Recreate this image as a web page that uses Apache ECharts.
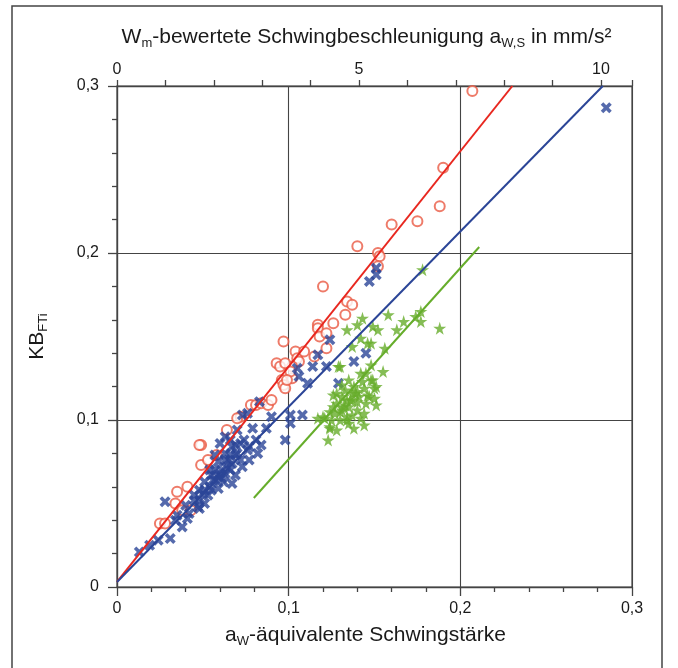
<!DOCTYPE html>
<html><head><meta charset="utf-8">
<script src="https://cdn.jsdelivr.net/npm/echarts@6/dist/echarts.min.js"></script>
<style>html,body{margin:0;padding:0;background:#fff}#c{width:678px;height:668px}</style>
</head><body><div id="c"></div>
<script>
// Bottom axis: a_w-äquivalente Schwingstärke ; left axis: KB_FTi
const xTicks = [0, 0.1, 0.2, 0.3];
const yTicks = [0, 0.1, 0.2, 0.3];
const topTickLabels = [0, 5, 10];
const topAxisMaxAtRightEdge = 10.64; // mm/s² at x = 0,3

const redCircles = [
[0.207,0.297],[0.190,0.251],[0.188,0.228],[0.175,0.219],[0.160,0.217],[0.140,0.204],
[0.152,0.200],[0.153,0.198],[0.152,0.192],[0.120,0.180],[0.134,0.171],[0.137,0.169],
[0.133,0.163],[0.117,0.157],[0.117,0.155],[0.126,0.158],[0.118,0.150],[0.122,0.143],
[0.115,0.138],[0.122,0.152],[0.104,0.141],[0.105,0.137],[0.106,0.135],[0.102,0.132],
[0.102,0.125],[0.097,0.147],[0.109,0.141],[0.093,0.134],[0.095,0.132],[0.098,0.134],
[0.101,0.129],[0.096,0.124],[0.097,0.121],[0.098,0.119],[0.099,0.124],[0.078,0.109],
[0.081,0.109],[0.084,0.110],[0.088,0.109],[0.090,0.112],[0.072,0.102],[0.070,0.101],
[0.064,0.094],[0.049,0.085],[0.048,0.085],[0.049,0.073],[0.053,0.076],[0.058,0.079],
[0.035,0.057],[0.041,0.060],[0.034,0.050],[0.038,0.046],[0.043,0.046],[0.025,0.038],
[0.028,0.038]
];
const blueCrosses = [
[0.285,0.287],[0.151,0.191],[0.151,0.187],[0.147,0.183],[0.124,0.148],[0.117,0.139],
[0.114,0.132],[0.122,0.132],[0.145,0.140],[0.138,0.135],[0.106,0.126],[0.111,0.122],
[0.105,0.131],[0.108,0.103],[0.101,0.103],[0.101,0.098],[0.098,0.088],[0.090,0.102],
[0.087,0.095],[0.076,0.104],[0.083,0.111],[0.079,0.095],[0.081,0.088],[0.082,0.080],
[0.076,0.082],[0.072,0.086],[0.067,0.084],[0.063,0.090],[0.060,0.086],[0.063,0.080],
[0.072,0.076],[0.067,0.074],[0.064,0.072],[0.060,0.068],[0.056,0.064],[0.054,0.060],
[0.050,0.056],[0.048,0.052],[0.051,0.050],[0.047,0.048],[0.042,0.044],[0.028,0.051],
[0.038,0.036],[0.031,0.029],[0.024,0.028],[0.041,0.041],[0.035,0.043],[0.073,0.103],
[0.070,0.080],[0.073,0.072],[0.055,0.067],[0.067,0.062],[0.057,0.064],[0.061,0.070],
[0.065,0.076],[0.057,0.070],[0.059,0.066],[0.061,0.065],[0.063,0.068],[0.066,0.070],
[0.055,0.058],[0.053,0.055],[0.059,0.059],[0.062,0.063],[0.069,0.067],[0.069,0.085],
[0.066,0.079],[0.051,0.058],[0.045,0.052],[0.048,0.047],[0.084,0.085],[0.077,0.076],
[0.129,0.122],[0.051,0.063],[0.054,0.070],[0.059,0.075],[0.063,0.076],[0.069,0.079],
[0.074,0.088],[0.077,0.084],[0.048,0.058],[0.045,0.055],[0.066,0.088],[0.070,0.094],
[0.057,0.079],[0.040,0.049],[0.034,0.040],[0.019,0.025],[0.013,0.021]
];
const greenStars = [
[0.178,0.190],[0.167,0.159],[0.174,0.162],[0.177,0.165],[0.177,0.159],[0.188,0.155],
[0.158,0.163],[0.143,0.161],[0.140,0.157],[0.134,0.154],[0.149,0.156],[0.152,0.154],
[0.163,0.154],[0.142,0.149],[0.146,0.146],[0.148,0.146],[0.137,0.144],[0.156,0.143],
[0.129,0.132],[0.148,0.133],[0.142,0.128],[0.149,0.124],[0.151,0.120],[0.151,0.109],
[0.124,0.096],[0.120,0.102],[0.135,0.098],[0.130,0.132],[0.145,0.128],[0.148,0.124],
[0.150,0.119],[0.143,0.123],[0.138,0.120],[0.131,0.114],[0.128,0.110],[0.124,0.105],
[0.121,0.101],[0.124,0.095],[0.140,0.106],[0.145,0.110],[0.135,0.108],[0.134,0.102],
[0.130,0.100],[0.141,0.114],[0.137,0.116],[0.131,0.106],[0.127,0.104],[0.144,0.104],
[0.142,0.101],[0.137,0.103],[0.134,0.112],[0.140,0.111],[0.133,0.118],[0.128,0.116],
[0.147,0.114],[0.155,0.129],[0.132,0.108],[0.136,0.112],[0.139,0.116],[0.126,0.108],
[0.126,0.115],[0.133,0.109],[0.137,0.112],[0.140,0.117],[0.144,0.119],[0.130,0.105],
[0.134,0.100],[0.138,0.095],[0.144,0.097],[0.128,0.094],[0.125,0.100],[0.146,0.115],
[0.150,0.113],[0.131,0.121],[0.135,0.124],[0.123,0.088],[0.117,0.101]
];
const redLine = [[0, 0.003], [0.2303, 0.3]];
const blueLine = [[0, 0.003], [0.283, 0.3]];
const greenLine = [[0.0797, 0.0533], [0.211, 0.2036]];

const C_RED = '#e8271f', C_REDPT = '#ea5a44', C_BLUE = '#2b4597', C_GREEN = '#66ad2b';
const AX = '#444';
const FONT = 'Liberation Sans';
const TXT = '#1a1a1a';
const crossPath = 'path://M2.3,0 L5,2.7 L7.7,0 L10,2.3 L7.3,5 L10,7.7 L7.7,10 L5,7.3 L2.3,10 L0,7.7 L2.7,5 L0,2.3 Z';
const starPath = 'path://M50,0 L61,35 L98,35 L68,57 L79,91 L50,70 L21,91 L32,57 L2,35 L39,35 Z';
const fmt = v => { const r = Math.round(v * 10) / 10; return String(r).replace('.', ','); };
const mkRich = () => ({
  a: {fontSize: 21, color: TXT, fontFamily: FONT, lineHeight: 26, verticalAlign: 'top'},
  s: {fontSize: 13, color: TXT, fontFamily: FONT, lineHeight: 26, verticalAlign: 'top', padding: [10, 0, 0, 0]}
});

const chart = echarts.init(document.getElementById('c'), null, {renderer: 'canvas'});
chart.setOption({
  animation: false,
  backgroundColor: '#fff',
  textStyle: {fontFamily: FONT},
  graphic: [{type: 'rect', shape: {x: 12, y: 6, width: 650, height: 690},
    style: {fill: 'none', stroke: '#444', lineWidth: 1.5}, silent: true}],
  grid: {left: 117, right: 46, top: 86, bottom: 81, show: true, borderColor: AX, borderWidth: 1.2},
  xAxis: [{
    type: 'value', min: xTicks[0], max: xTicks[xTicks.length - 1], interval: 0.1, position: 'bottom',
    axisLine: {lineStyle: {color: AX, width: 1.3}},
    axisTick: {length: 9, lineStyle: {color: AX, width: 1.3}},
    minorTick: {show: true, splitNumber: 5, length: 5, lineStyle: {color: AX, width: 1.3}},
    splitLine: {show: true, lineStyle: {color: '#444', width: 1.1}},
    axisLabel: {formatter: fmt, color: TXT, fontSize: 16, margin: 14, fontFamily: FONT},
    name: '{a|a}{s|W}{a|-äquivalente Schwingstärke}', nameLocation: 'middle', nameGap: 38,
    nameTextStyle: {rich: mkRich(), padding: [0, 18, 0, 0]}
  }, {
    type: 'value', min: 0, max: topAxisMaxAtRightEdge, interval: 1, position: 'top',
    axisLine: {lineStyle: {color: AX, width: 1.3}},
    axisTick: {length: 6, lineStyle: {color: AX, width: 1.3}},
    splitLine: {show: false},
    axisLabel: {formatter: v => topTickLabels.indexOf(Math.round(v * 100) / 100) >= 0 ? String(v) : '',
      color: TXT, fontSize: 16, margin: 8, fontFamily: FONT},
    name: '{a|W}{s|m}{a|-bewertete Schwingbeschleunigung a}{s|W,S}{a| in mm/s²}', nameLocation: 'middle', nameGap: 33,
    nameTextStyle: {rich: mkRich(), padding: [0, 16, 0, 0]}
  }],
  yAxis: {
    type: 'value', min: yTicks[0], max: yTicks[yTicks.length - 1], interval: 0.1,
    axisLine: {lineStyle: {color: AX, width: 1.3}},
    axisTick: {length: 9, lineStyle: {color: AX, width: 1.3}},
    minorTick: {show: true, splitNumber: 5, length: 5, lineStyle: {color: AX, width: 1.3}},
    splitLine: {show: true, lineStyle: {color: '#444', width: 1.1}},
    axisLabel: {formatter: fmt, color: TXT, fontSize: 16, margin: 18, fontFamily: FONT},
    name: '{a|KB}{s|FTi}', nameLocation: 'middle', nameGap: 64, nameRotate: 90,
    nameTextStyle: {rich: mkRich()}
  },
  series: [
    {type: 'scatter', data: redCircles, symbol: 'emptyCircle', symbolSize: 10,
      itemStyle: {color: C_REDPT, borderColor: C_REDPT, borderWidth: 1}, z: 3},
    {type: 'scatter', data: blueCrosses, symbol: crossPath, symbolSize: 11,
      itemStyle: {color: C_BLUE}, z: 3},
    {type: 'scatter', data: greenStars, symbol: starPath, symbolSize: 13,
      itemStyle: {color: C_GREEN}, z: 3},
    {type: 'line', data: redLine, symbol: 'none', lineStyle: {color: C_RED, width: 2}, z: 4},
    {type: 'line', data: blueLine, symbol: 'none', lineStyle: {color: C_BLUE, width: 2}, z: 4},
    {type: 'line', data: greenLine, symbol: 'none', lineStyle: {color: C_GREEN, width: 2}, z: 4}
  ]
});
</script></body></html>
